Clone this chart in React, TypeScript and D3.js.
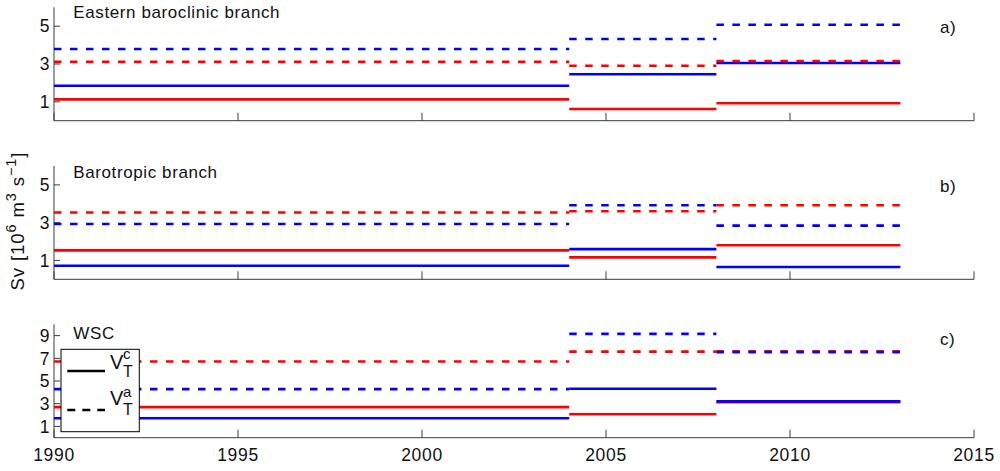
import React from "react";
import * as d3 from "d3";

const periodStarts = [1990, 2004, 2008];
const periodEnds = [2004, 2008, 2013];
const xTicks = [1990, 1995, 2000, 2005, 2010, 2015];

const panelNames = ["Eastern baroclinic branch", "Barotropic branch", "WSC"];
const panelTags = ["a)", "b)", "c)"];
const panelYMax = [6, 6, 10];
const panelYTicks = [[1, 3, 5], [1, 3, 5], [1, 3, 5, 7, 9]];

// Panel a
const aRedSolid = [1.13, 0.62, 0.92];
const aBlueSolid = [1.85, 2.46, 3.05];
const aRedDashed = [3.11, 2.91, 3.16];
const aBlueDashed = [3.79, 4.32, 5.08];
// Panel b
const bRedSolid = [1.53, 1.16, 1.80];
const bBlueSolid = [0.72, 1.60, 0.65];
const bRedDashed = [3.54, 3.60, 3.92];
const bBlueDashed = [2.93, 3.92, 2.84];
// Panel c
const cRedSolid = [2.70, 2.07, 3.12];
const cBlueSolid = [1.72, 4.31, 3.20];
const cRedDashed = [6.72, 7.59, 7.63];
const cBlueDashed = [4.28, 9.16, 7.54];

const panelSeries = [
  [aRedSolid, aBlueSolid, aRedDashed, aBlueDashed],
  [bRedSolid, bBlueSolid, bRedDashed, bBlueDashed],
  [cRedSolid, cBlueSolid, cRedDashed, cBlueDashed],
];
const seriesStyle = [
  { color: "#ff0000", dash: null },
  { color: "#0000ff", dash: null },
  { color: "#ff0000", dash: "7.5 8.5" },
  { color: "#0000ff", dash: "7.5 8.5" },
];

const panelTop = [7.3, 166, 324.3];
const panelBottom = [120.7, 279.3, 437.7];
const titleBaseline = [18.3, 178.3, 339];
const tagBaseline = [33, 191.7, 345];

const FONT = "'Liberation Sans', Arial, Helvetica, sans-serif";
const AX = "#3a3a3a";

export default function App() {
  const x = d3.scaleLinear().domain([1990, 2015]).range([54, 974]);
  return (
    <svg
      width={1000}
      height={471}
      style={{ position: "absolute", left: 0, top: 0, background: "#fff" }}
      fontFamily={FONT}
    >
      {panelSeries.map((series, p) => {
        const y = d3.scaleLinear().domain([0, panelYMax[p]]).range([panelBottom[p], panelTop[p]]);
        return (
          <g key={p}>
            <line x1={x(1990)} x2={x(1990)} y1={y(panelYMax[p])} y2={y(0)} stroke={AX} strokeWidth={1} />
            <line x1={x(1990)} x2={x(2015)} y1={y(0)} y2={y(0)} stroke={AX} strokeWidth={1} />
            {xTicks.map((t) => (
              <line key={t} x1={x(t)} x2={x(t)} y1={y(0)} y2={y(0) - 8} stroke={AX} strokeWidth={1} />
            ))}
            {panelYTicks[p].map((t) => (
              <g key={t}>
                <line x1={x(1990)} x2={x(1990) + 6} y1={y(t)} y2={y(t)} stroke={AX} strokeWidth={1} />
                <text x={49.5} y={y(t) + 6.2} textAnchor="end" fontSize={17.5} fill="#111">
                  {t}
                </text>
              </g>
            ))}
            {series.map((vals, s) =>
              vals.map((v, i) => (
                <line
                  key={`${s}-${i}`}
                  x1={x(periodStarts[i])}
                  x2={x(periodEnds[i])}
                  y1={y(v)}
                  y2={y(v)}
                  stroke={seriesStyle[s].color}
                  strokeWidth={2.6}
                  strokeDasharray={seriesStyle[s].dash ?? undefined}
                />
              ))
            )}
            <text x={73.3} y={titleBaseline[p]} fontSize={17} fill="#111" letterSpacing={0.6}>
              {panelNames[p]}
            </text>
            <text x={940} y={tagBaseline[p]} fontSize={17} fill="#111" letterSpacing={0.6}>
              {panelTags[p]}
            </text>
          </g>
        );
      })}
      {xTicks.map((t) => (
        <text key={t} x={x(t)} y={460.7} textAnchor="middle" fontSize={17.5} fill="#111" letterSpacing={0.7}>
          {t}
        </text>
      ))}
      <text
        transform="translate(24,221) rotate(-90)"
        textAnchor="middle"
        fontSize={18.5}
        fill="#111"
        letterSpacing={0.9}
      >
        <tspan>Sv [10</tspan>
        <tspan dy={-8} fontSize={14.5}>6</tspan>
        <tspan dy={8}> m</tspan>
        <tspan dy={-8} fontSize={14.5}>3</tspan>
        <tspan dy={8}> s</tspan>
        <tspan dy={-8} fontSize={14.5}>−1</tspan>
        <tspan dy={8}>]</tspan>
      </text>
      <g>
        <rect x={61} y={349.3} width={78.3} height={82.4} fill="#fff" stroke="#000" strokeWidth={1} />
        <line x1={67.3} x2={105} y1={371} y2={371} stroke="#000" strokeWidth={2.6} />
        <line x1={67.3} x2={105} y1={410} y2={410} stroke="#000" strokeWidth={2.6} strokeDasharray="8 7" />
        <text x={110} y={368.5} fontSize={20} fill="#111">V</text>
        <text x={123} y={358.5} fontSize={15} fill="#111">c</text>
        <text x={123} y={377} fontSize={16} fill="#111">T</text>
        <text x={110} y={405} fontSize={20} fill="#111">V</text>
        <text x={123} y={396.7} fontSize={15} fill="#111">a</text>
        <text x={123} y={415} fontSize={16} fill="#111">T</text>
      </g>
    </svg>
  );
}
